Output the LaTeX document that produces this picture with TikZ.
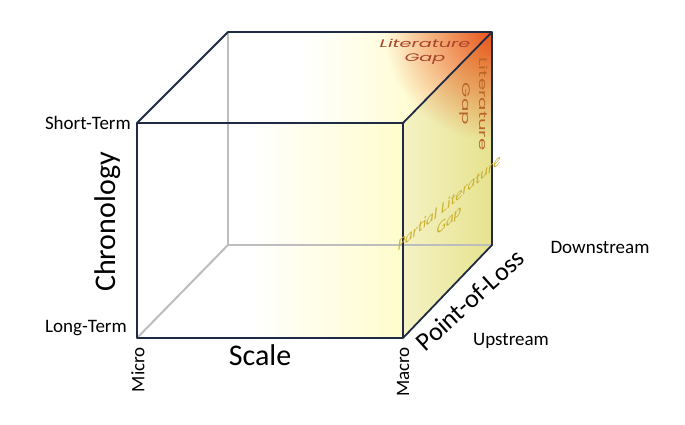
\documentclass[tikz,border=0pt]{standalone}
\usepackage{fontspec}
\setmainfont{Carlito}
\newfontfamily\gapfont{Poppins}
\usetikzlibrary{fadings}
\definecolor{navy}{HTML}{1F2A44}
\definecolor{hid}{HTML}{BDBDBD}
\definecolor{paleY}{HTML}{FFFCCC}
\definecolor{rfL}{HTML}{F5F2C4}
\definecolor{rfR}{HTML}{E6E28E}
\definecolor{gapO}{HTML}{E8541A}
\definecolor{gapT}{HTML}{A8432C}
\definecolor{gapR}{HTML}{B8662A}
\definecolor{gapP}{HTML}{C9B030}
\pgfdeclarehorizontalshading{frontsh}{100bp}{color(0bp)=(white); color(25bp)=(white); color(46bp)=(white); color(75bp)=(paleY); color(100bp)=(paleY)}
\pgfdeclarehorizontalshading{topsh}{100bp}{color(0bp)=(white); color(25bp)=(white); color(48bp)=(white); color(66bp)=(paleY); color(100bp)=(paleY)}
\pgfdeclarehorizontalshading{rightsh}{100bp}{color(0bp)=(rfL); color(25bp)=(rfL); color(75bp)=(rfR); color(100bp)=(rfR)}
\tikzfading[name=cornerfade, inner color=transparent!0, outer color=transparent!100]
\tikzset{
  edge/.style={navy, line width=1.8pt, line join=round},
  hidden/.style={hid, line width=2pt},
  lbl/.style={font=\fontsize{19}{22}\selectfont, inner sep=1pt},
  big/.style={font=\fontsize{30}{34}\selectfont, inner sep=1pt},
  pol/.style={font=\fontsize{26}{30}\selectfont, inner sep=1pt},
  gaptext/.style={font=\gapfont\itshape\fontsize{11}{14}\selectfont, text=gapT, align=center, inner sep=0pt},
  gapside/.style={font=\gapfont\fontsize{11}{17}\selectfont, text=gapR, align=center, inner sep=0pt},
  partial/.style={font=\itshape\fontsize{15}{17}\selectfont, text=gapP, align=center, inner sep=0pt},
}
\begin{document}
\begin{tikzpicture}[x=1pt,y=1pt]
\useasboundingbox (0,0) rectangle (685,424);
% vertices
\coordinate (A) at (137,301);
\coordinate (B) at (403,301);
\coordinate (C) at (403,86);
\coordinate (D) at (137,86);
\coordinate (E) at (228,392);
\coordinate (F) at (492,392);
\coordinate (G) at (492,179);
\coordinate (H) at (228,179);
% faces
\shade[shading=frontsh] (A) -- (B) -- (C) -- (D) -- cycle;
\shade[shading=topsh] (A) -- (E) -- (F) -- (B) -- cycle;
\shade[shading=rightsh] (B) -- (F) -- (G) -- (C) -- cycle;
\fill[gapO, path fading=cornerfade, fit fading=false, fading transform={shift={(492pt,392pt)}, scale=4.3}]
  (A) -- (E) -- (F) -- (G) -- (C) -- (B) -- cycle;
% hidden edges
\draw[hidden] (E) -- (H) -- (G);
\draw[hidden] (H) -- (D);
% visible edges
\draw[edge] (A) -- (B) -- (C) -- (D) -- cycle;
\draw[edge] (A) -- (E) -- (F) -- (G) -- (C);
\draw[edge] (B) -- (F);
% labels
\node[lbl, anchor=east] (st) at (132,301) {Short-Term};
\node[lbl, anchor=east] (lt) at (128,96) {Long-Term};
\node[big, rotate=90] (chron) at (108,202) {Chronology};
\node[lbl, rotate=90, anchor=east] (micro) at (138,78) {Micro};
\node[lbl, rotate=90, anchor=east] (macro) at (403,78) {Macro};
\node[big] (scale) at (260,69) {Scale};
\node[pol, rotate=42] (pol) at (470,124) {Point-of-Loss};
\node[lbl] (up) at (511,83) {Upstream};
\node[lbl] (down) at (600,177) {Downstream};
\node[gaptext, xscale=1.75] (gt) at (425,372) {Literature\\Gap};
\node[gapside, rotate=-90, xscale=1.8] (gr) at (474,320) {Literature\\Gap};
\node[partial, yslant=0.85] (gp) at (449,212) {Partial Literature\\Gap};
\end{tikzpicture}
\end{document}
